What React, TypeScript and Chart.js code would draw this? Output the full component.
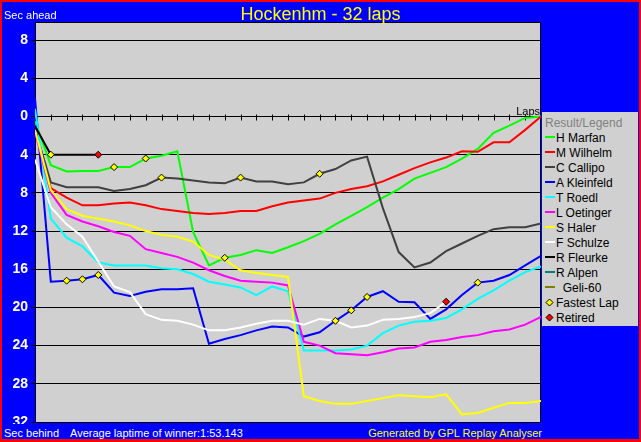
import React, { useEffect, useRef } from "react";
import { Chart, registerables } from "chart.js";

Chart.register(...registerables);

// ---- data ----
const LAPS = [0, 1, 2, 3, 4, 5, 6, 7, 8, 9, 10, 11, 12, 13, 14, 15, 16, 17, 18, 19, 20, 21, 22, 23, 24, 25, 26, 27, 28, 29, 30, 31, 32];

// seconds behind (negative = ahead)
const H_MARFAN = [0.5, 5.1, 5.75, 5.7, 5.7, 5.3, 5.3, 4.4, 4.1, 3.65, 12.1, 15.6, 14.8, 14.5, 14.0, 14.3, 13.7, 13.05, 12.3, 11.3, 10.4, 9.5, 8.5, 7.6, 6.5, 5.9, 5.3, 4.4, 3.4, 1.7, 0.95, 0.15, 0];
const M_WILHELM = [1.2, 7.5, 8.5, 9.3, 9.3, 9.1, 9.0, 9.3, 9.7, 9.9, 10.1, 10.2, 10.1, 9.9, 9.9, 9.4, 9.0, 8.8, 8.6, 8.0, 7.6, 7.3, 6.8, 6.1, 5.4, 4.8, 4.3, 3.65, 3.7, 2.7, 2.7, 1.4, 0];
const C_CALLIPO = [1.3, 6.9, 7.4, 7.4, 7.4, 7.8, 7.6, 7.2, 6.4, 6.5, 6.7, 6.9, 7.0, 6.4, 6.8, 6.8, 7.1, 6.9, 6.0, 5.5, 4.6, 4.2, 9.6, 14.2, 15.8, 15.3, 14.1, 13.3, 12.5, 11.8, 11.6, 11.6, 11.2];
const A_KLEINFELD = [-1.9, 17.3, 17.2, 17.05, 16.6, 18.45, 18.8, 18.35, 18.1, 18.1, 18.0, 23.8, 23.3, 22.9, 22.4, 22.0, 22.1, 23.05, 22.6, 21.4, 20.3, 18.9, 18.3, 19.4, 19.45, 21.2, 20.2, 18.7, 17.4, 17.2, 16.6, 15.6, 14.6];
const T_ROEDL = [-0.8, 10.7, 12.7, 13.6, 15.3, 15.6, 15.6, 15.6, 15.9, 16.0, 16.5, 17.3, 17.6, 17.9, 18.7, 17.8, 18.3, 24.5, 24.5, 24.5, 24.4, 24.0, 22.7, 21.9, 21.5, 21.4, 21.1, 20.2, 19.1, 18.2, 17.2, 16.3, 15.7];
const L_OETINGER = [1.6, 8.0, 10.3, 11.0, 11.5, 12.1, 12.5, 13.9, 14.3, 14.7, 15.3, 16.1, 16.7, 17.2, 17.3, 17.4, 17.7, 23.6, 24.0, 24.8, 24.9, 25.0, 24.7, 24.3, 24.2, 23.6, 23.4, 23.1, 22.9, 22.5, 22.3, 21.8, 21.0];
const S_HALER = [1.4, 7.7, 9.7, 10.4, 10.7, 11.0, 11.4, 12.0, 12.4, 12.6, 13.1, 14.5, 15.0, 16.1, 16.4, 16.6, 16.8, 29.3, 29.8, 30.1, 30.1, 29.8, 29.5, 29.2, 29.3, 29.4, 29.1, 31.2, 31.05, 30.5, 30.0, 30.0, 29.8];
const F_SCHULZE = [4.5, 9.5, 11.3, 12.6, 15.2, 17.8, 18.4, 20.7, 21.3, 21.4, 21.8, 22.4, 22.4, 22.1, 21.7, 21.4, 21.4, 21.8, 21.2, 21.4, 22.1, 21.9, 21.3, 21.2, 21.0, 20.6, 19.4];
const R_FLEURKE = [1.0, 4.0, 4.0, 4.0, 4.0];
const R_ALPEN: number[] = [];
const GELI_60: number[] = [];

const DRIVERS = ["H Marfan", "M Wilhelm", "C Callipo", "A Kleinfeld", "T Roedl", "L Oetinger", "S Haler", "F Schulze", "R Fleurke", "R Alpen", "  Geli-60"];
const SERIES = [H_MARFAN, M_WILHELM, C_CALLIPO, A_KLEINFELD, T_ROEDL, L_OETINGER, S_HALER, F_SCHULZE, R_FLEURKE, R_ALPEN, GELI_60];
const COLORS = ["#00FF00", "#FF0000", "#404040", "#0000FF", "#00FFFF", "#FF00FF", "#FFFF00", "#FFFFFF", "#000000", "#008080", "#808000"];

// [driver index, lap]
const FASTEST_LAPS = [[8, 1], [3, 2], [3, 3], [3, 4], [0, 5], [0, 7], [2, 8], [0, 12], [2, 13], [2, 18], [3, 19], [3, 20], [3, 21], [3, 28]];
const RETIRED = [[8, 4], [7, 26]];

const Y_TICKS = [8, 4, 0, -4, -8, -12, -16, -20, -24, -28, -32];

const TITLE = "Hockenhm - 32 laps";
const FONT = '"Liberation Sans", Arial, sans-serif';
const PLOT_BG = "#D0D0D0";

const framePlugin = {
  id: "frame",
  beforeDraw(chart: any) {
    const { ctx, chartArea: a } = chart;
    ctx.save();
    ctx.fillStyle = PLOT_BG;
    ctx.fillRect(a.left, a.top, a.right - a.left, a.bottom - a.top);
    ctx.restore();
  },
  beforeDatasetsDraw(chart: any) {
    const { ctx, chartArea: a } = chart;
    const xs = chart.scales.x;
    const ys = chart.scales.y;
    ctx.save();
    ctx.strokeStyle = "#000";
    ctx.lineWidth = 1;
    const y0 = Math.round(ys.getPixelForValue(0)) + 0.5;
    ctx.beginPath();
    for (const lap of LAPS) {
      if (lap === 0 || lap === LAPS[LAPS.length - 1]) continue;
      const px = Math.round(xs.getPixelForValue(lap)) + 0.5;
      ctx.moveTo(px, y0 - 3);
      ctx.lineTo(px, y0 + 3);
    }
    ctx.stroke();
    ctx.strokeRect(Math.round(a.left) + 0.5, Math.round(a.top) + 0.5, Math.round(a.right - a.left) - 1, Math.round(a.bottom - a.top));
    ctx.restore();
  },
};

function pts(arr: number[]) {
  return arr.map((v, i) => ({ x: LAPS[i], y: -v }));
}

function markerPts(list: number[][]) {
  return list.map(([d, lap]) => ({ x: lap, y: -SERIES[d][LAPS.indexOf(lap)] }));
}

function Diamond({ fill }: { fill: string }) {
  return (
    <svg width={9} height={9} style={{ display: "block" }}>
      <polygon points="4.5,1 8,4.5 4.5,8 1,4.5" fill={fill} stroke="#000" strokeWidth={1} />
    </svg>
  );
}

export default function App() {
  const ref = useRef<HTMLCanvasElement | null>(null);

  useEffect(() => {
    const canvas = ref.current;
    if (!canvas) return;
    const lineSets = SERIES.map((s, i) => ({
      label: DRIVERS[i],
      data: pts(s),
      borderColor: COLORS[i],
      backgroundColor: COLORS[i],
      borderWidth: 2,
      pointRadius: 0,
      tension: 0,
      fill: false,
      order: 100 - i,
    }));
    const markerSets = [
      {
        label: "Fastest Lap",
        data: markerPts(FASTEST_LAPS),
        showLine: false,
        pointStyle: "rectRot",
        pointRadius: 3.5,
        pointBackgroundColor: "#FFFF00",
        pointBorderColor: "#000",
        pointBorderWidth: 1,
        order: 0,
      },
      {
        label: "Retired",
        data: markerPts(RETIRED),
        showLine: false,
        pointStyle: "rectRot",
        pointRadius: 3.5,
        pointBackgroundColor: "#FF0000",
        pointBorderColor: "#000",
        pointBorderWidth: 1,
        order: 0,
      },
    ];
    const chart = new Chart(canvas, {
      type: "line",
      data: { datasets: [...markerSets, ...lineSets] as any },
      options: {
        responsive: false,
        animation: false,
        devicePixelRatio: 1,
        layout: { padding: { left: 0, top: 22, right: 100, bottom: 20 } },
        plugins: { legend: { display: false }, tooltip: { enabled: false }, title: { display: false } },
        scales: {
          x: { type: "linear", min: 0, max: 32, display: false },
          y: {
            type: "linear",
            min: -32,
            max: 9.9,
            afterBuildTicks: (s: any) => {
              s.ticks = Y_TICKS.map((v) => ({ value: v }));
            },
            afterFit: (s: any) => {
              s.width = 35;
            },
            ticks: {
              color: "#FFFFFF",
              padding: 3,
              font: { family: FONT, size: 14, weight: "bold" },
              callback: (v: any) => String(Math.abs(Number(v))),
            },
            grid: { color: "#000", lineWidth: 1, tickLength: 4, tickColor: "#000", drawTicks: true },
            border: { display: true, color: "#000", width: 1 },
          },
        },
      } as any,
      plugins: [framePlugin],
    });
    return () => chart.destroy();
  }, []);

  const legendRows = [
    ...DRIVERS.map((d, i) => ({ kind: "line", label: d, color: COLORS[i] })),
    { kind: "marker", label: "Fastest Lap", color: "#FFFF00" },
    { kind: "marker", label: "Retired", color: "#FF0000" },
  ];

  const abs = (o: any) => ({ position: "absolute" as const, ...o });

  return (
    <div style={{ position: "fixed", left: 0, top: 0, width: 641, height: 442, background: "#FF0000", overflow: "hidden", fontFamily: FONT }}>
      <div style={abs({ left: 2, top: 2, width: 637, height: 437, background: "#0000FF" })} />
      <canvas ref={ref} width={641} height={442} style={{ position: "absolute", left: 0, top: 0, width: 641, height: 442, display: "block", zIndex: 1 }} />
      <div style={abs({ left: 2, top: 424, width: 637, height: 15, background: "#0000FF", zIndex: 2 })} />
      <div style={abs({ left: 0, top: 5, width: 641, textAlign: "center", color: "#FFFF00", fontSize: 18, lineHeight: "18px", zIndex: 3 })}>{TITLE}</div>
      <div style={abs({ left: 4, top: 10, color: "#FFFFFF", fontSize: 11, lineHeight: "11px", zIndex: 3, whiteSpace: "pre" })}>Sec ahead</div>
      <div style={abs({ left: 400, width: 140, top: 106, textAlign: "right", color: "#000", fontSize: 11, lineHeight: "11px", zIndex: 3 })}>Laps</div>
      <div style={abs({ left: 4, top: 428, color: "#FFFFFF", fontSize: 11, lineHeight: "11px", zIndex: 3, whiteSpace: "pre" })}>Sec behind</div>
      <div style={abs({ left: 70, top: 428, color: "#FFFFFF", fontSize: 11, lineHeight: "11px", zIndex: 3, whiteSpace: "pre" })}>Average laptime of winner:1:53.143</div>
      <div style={abs({ right: 99, top: 428, color: "#FFFF00", fontSize: 11, lineHeight: "11px", zIndex: 3, whiteSpace: "pre", textAlign: "right" })}>Generated by GPL Replay Analyser</div>
      <div style={abs({ left: 542, top: 112, width: 96, height: 214, background: PLOT_BG, zIndex: 3 })}>
        <div style={abs({ left: 3, top: 5, color: "#808080", fontSize: 12, lineHeight: "12px", whiteSpace: "pre" })}>Result/Legend</div>
        {legendRows.map((r, i) => {
          const top = 5 + 15 * (i + 1);
          return (
            <React.Fragment key={i}>
              {r.kind === "line" ? (
                <div style={abs({ left: 3, top: top + 4, width: 10, height: 2, background: r.color })} />
              ) : (
                <div style={abs({ left: 3, top: top + 1, width: 9, height: 9 })}>
                  <Diamond fill={r.color} />
                </div>
              )}
              <div style={abs({ left: 14, top, color: "#000", fontSize: 12, lineHeight: "12px", whiteSpace: "pre" })}>{r.label}</div>
            </React.Fragment>
          );
        })}
      </div>
    </div>
  );
}
